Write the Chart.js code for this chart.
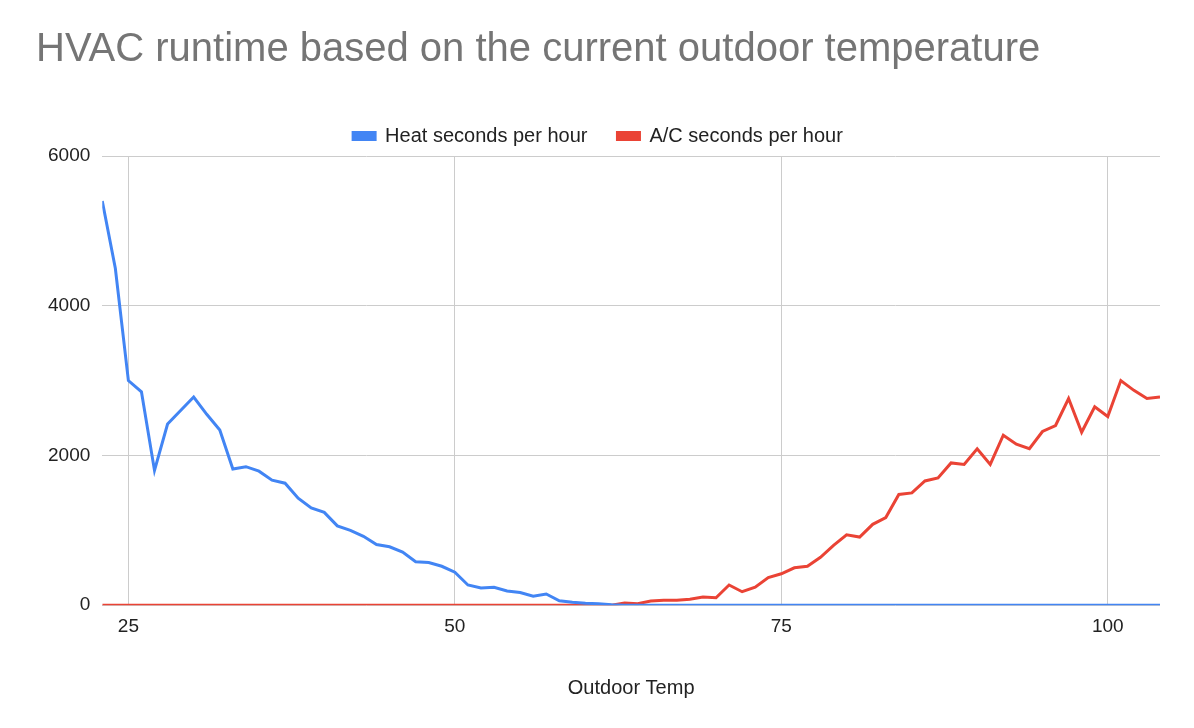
<!DOCTYPE html>
<html>
<head>
<meta charset="utf-8">
<script src="https://cdn.jsdelivr.net/npm/chart.js@4"></script>
<style>
  html, body { margin: 0; padding: 0; background: #fff; }
  #wrap { width: 1194px; height: 728px; position: relative; }
</style>
</head>
<body>
<div id="wrap"><canvas id="c"></canvas></div>
<script>
const temps = [];
for (let t = 23; t <= 104; t++) temps.push(t);

const heat = [5400, 4500, 3000, 2850, 1800, 2420, 2600, 2780, 2550, 2340,
  1820, 1850, 1790, 1670, 1630, 1430, 1300, 1240, 1060, 1000,
  920, 810, 780, 710, 580, 570, 520, 440, 270, 230,
  240, 190, 170, 120, 150, 60, 40, 25, 20, 5,
  0, 0, 0, 0, 0, 0, 0, 0, 0, 0,
  0, 0, 0, 0, 0, 0, 0, 0, 0, 0,
  0, 0, 0, 0, 0, 0, 0, 0, 0, 0,
  0, 0, 0, 0, 0, 0, 0, 0, 0, 0,
  0, 0];

const ac = [0, 0, 0, 0, 0, 0, 0, 0, 0, 0,
  0, 0, 0, 0, 0, 0, 0, 0, 0, 0,
  0, 0, 0, 0, 0, 0, 0, 0, 0, 0,
  0, 0, 0, 0, 0, 0, 0, 0, 0, 0,
  30, 20, 55, 65, 65, 80, 110, 100, 270, 180,
  240, 370, 420, 500, 520, 640, 800, 940, 910, 1080,
  1170, 1480, 1500, 1660, 1700, 1900, 1880, 2090, 1880, 2270,
  2150, 2090, 2320, 2400, 2760, 2310, 2650, 2520, 3000, 2870,
  2760, 2780];

const xTicks = [25, 50, 75, 100];
const yTicks = [0, 2000, 4000, 6000];

const toPts = arr => temps.map((t, i) => ({ x: t, y: arr[i] }));
const FONT = "Arial, 'Liberation Sans'";

new Chart(document.getElementById("c"), {
  type: "line",
  data: {
    datasets: [
      { label: "Heat seconds per hour", data: toPts(heat), borderColor: "#4285f4", backgroundColor: "#4285f4", borderWidth: 3, pointRadius: 0, tension: 0 },
      { label: "A/C seconds per hour", data: toPts(ac), borderColor: "#ea4335", backgroundColor: "#ea4335", borderWidth: 3, pointRadius: 0, tension: 0 }
    ]
  },
  options: {
    responsive: true,
    maintainAspectRatio: false,
    animation: false,
    layout: { padding: { left: 36, right: 34, top: 22, bottom: 24 } },
    plugins: {
      title: {
        display: true, text: "HVAC runtime based on the current outdoor temperature",
        align: "start", color: "#757575",
        font: { family: FONT, size: 40, weight: "normal" },
        padding: { top: 4, bottom: 22 }
      },
      legend: {
        display: true,
        labels: { boxWidth: 22, boxHeight: 7, color: "#222", padding: 30,
          font: { family: FONT, size: 20 } }
      }
    },
    scales: {
      x: {
        type: "linear", min: 23, max: 104,
        afterBuildTicks: axis => { axis.ticks = xTicks.map(v => ({ value: v })); },
        grid: { color: "#cccccc", drawTicks: false },
        border: { display: false },
        ticks: { color: "#222", padding: 10, font: { size: 19, family: FONT } },
        title: { display: true, text: "Outdoor Temp", color: "#222", padding: { top: 28 },
          font: { size: 20, family: FONT } }
      },
      y: {
        min: 0, max: 6000,
        afterBuildTicks: axis => { axis.ticks = yTicks.map(v => ({ value: v })); },
        grid: { color: "#cccccc", drawTicks: false },
        border: { display: false },
        ticks: { color: "#222", padding: 12, callback: v => String(v), font: { size: 19, family: FONT } }
      }
    }
  }
});
</script>
</body>
</html>
